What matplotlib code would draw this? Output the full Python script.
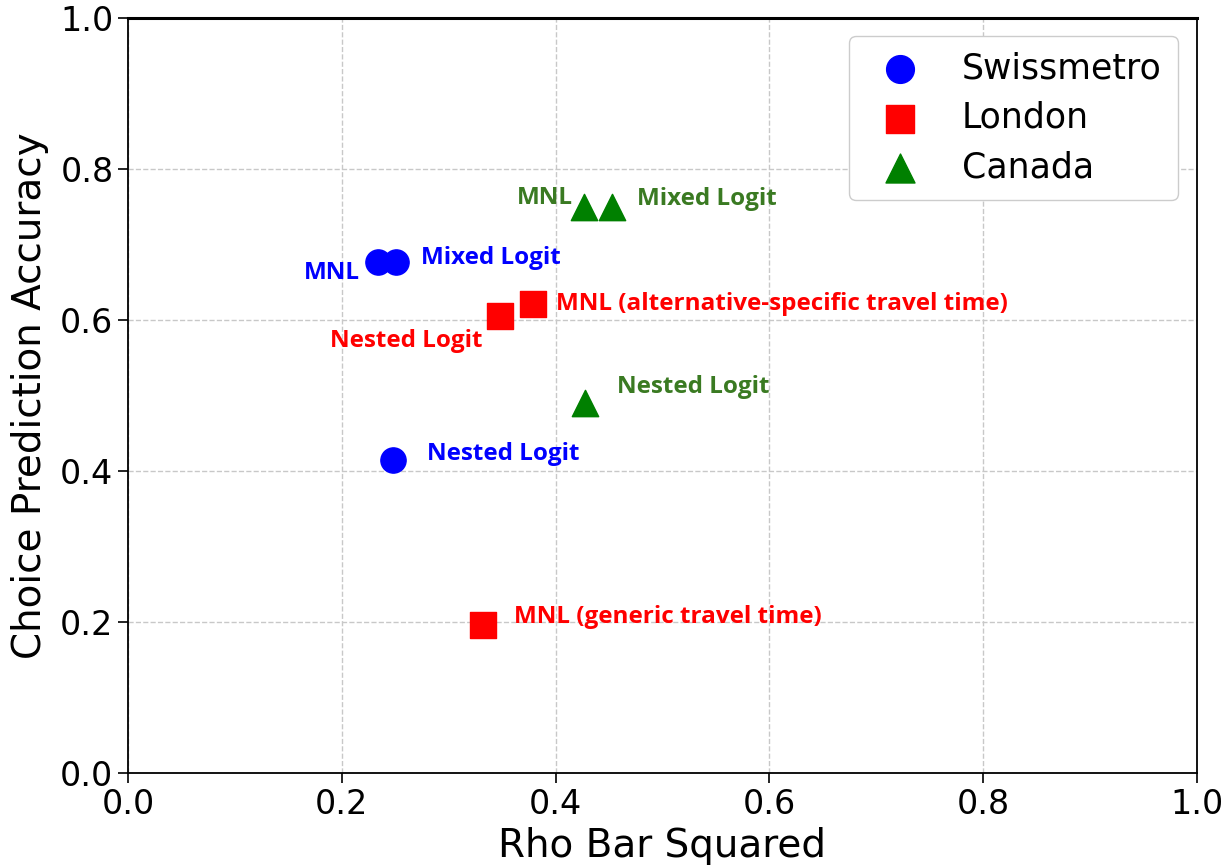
import matplotlib.pyplot as plt

# Data
swiss_x = [0.234, 0.251, 0.248]
swiss_y = [0.677, 0.677, 0.415]
swiss_labels = ['MNL', 'Mixed Logit', 'Nested Logit']

london_x = [0.348, 0.379, 0.332]
london_y = [0.605, 0.622, 0.197]
london_labels = ['Nested Logit', 'MNL (alternative-specific travel time)', 'MNL (generic travel time)']

canada_x = [0.427, 0.453, 0.428]
canada_y = [0.750, 0.750, 0.491]
canada_labels = ['MNL', 'Mixed Logit', 'Nested Logit']

# label offsets in pixels (dx, dy) and alignment
swiss_offsets = [(-18, -11, 'right'), (25, 4, 'left'), (34, 6, 'left')]
london_offsets = [(-17, -25, 'right'), (23, 0, 'left'), (31, 8, 'left')]
canada_offsets = [(-12, 9, 'right'), (25, 8, 'left'), (32, 16, 'left')]

fig = plt.figure(figsize=(12.25, 8.67), dpi=100)
ax = fig.add_axes([0.1045, 0.108, 0.8725, 0.871])

ax.scatter(swiss_x, swiss_y, s=330, marker='o', color='blue', label='Swissmetro', zorder=3)
ax.scatter(london_x, london_y, s=330, marker='s', color='red', label='London', zorder=3)
ax.scatter(canada_x, canada_y, s=360, marker='^', color='green', label='Canada', zorder=3)

label_font = ['Open Sans', 'DejaVu Sans']


def add_labels(xs, ys, labels, offsets, color):
    for x, y, lab, (dx, dy, ha) in zip(xs, ys, labels, offsets):
        ax.annotate(lab, (x, y), xytext=(dx, dy), textcoords='offset pixels',
                    ha=ha, va='center', fontsize=17.5, fontweight='bold',
                    color=color, family=label_font)


add_labels(swiss_x, swiss_y, swiss_labels, swiss_offsets, 'blue')
add_labels(london_x, london_y, london_labels, london_offsets, 'red')
add_labels(canada_x, canada_y, canada_labels, canada_offsets, '#3a7a22')

ax.set_xlim(0, 1)
ax.set_ylim(0, 1)
ax.set_xticks([0.0, 0.2, 0.4, 0.6, 0.8, 1.0])
ax.set_yticks([0.0, 0.2, 0.4, 0.6, 0.8, 1.0])
ax.tick_params(labelsize=24, length=7, width=1.2)
ax.set_xlabel('Rho Bar Squared', fontsize=28, labelpad=4)
ax.set_ylabel('Choice Prediction Accuracy', fontsize=28, labelpad=8)
ax.grid(True, linestyle='--', color='#c8c8c8', linewidth=1)
ax.set_axisbelow(True)
for sp in ax.spines.values():
    sp.set_linewidth(1.3)
ax.spines['top'].set_linewidth(2.2)

ax.legend(loc='upper right', bbox_to_anchor=(0.982, 0.977), borderaxespad=0,
          fontsize=25, handletextpad=0.8, borderpad=0.45, labelspacing=0.45,
          markerscale=1.1, framealpha=1.0, edgecolor='#cccccc')

plt.savefig('out.png', dpi=100)
